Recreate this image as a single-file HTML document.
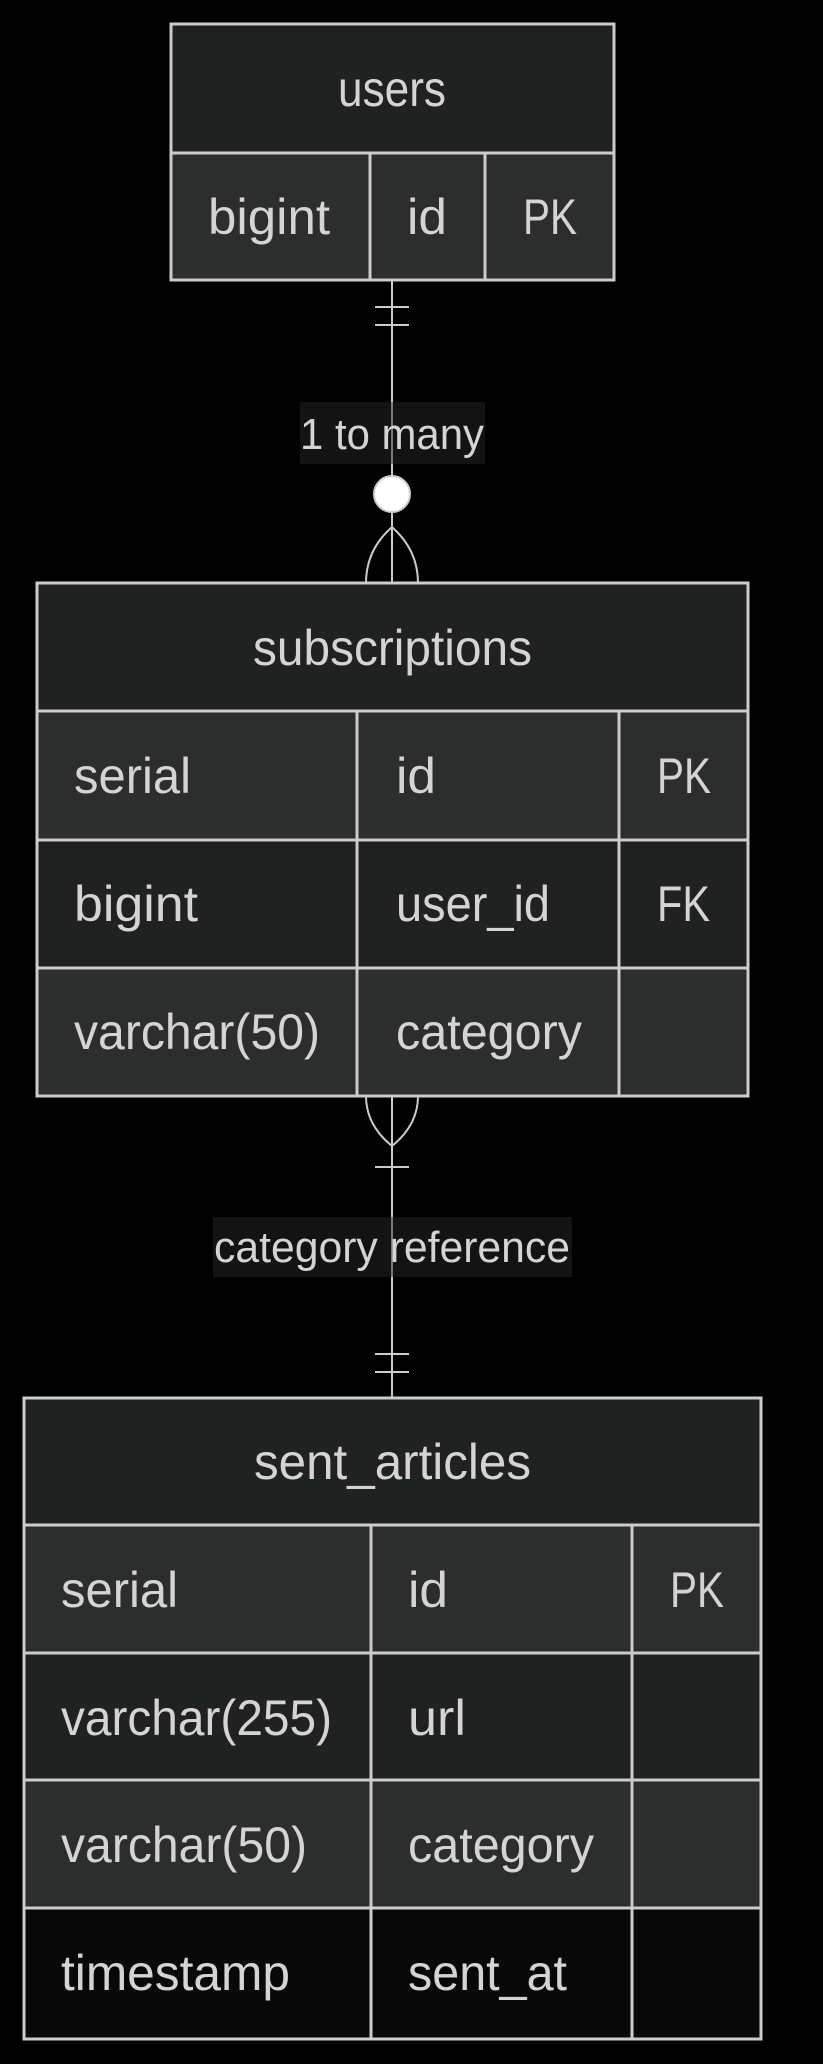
<!DOCTYPE html>
<html><head><meta charset="utf-8"><style>
html,body{margin:0;padding:0;background:#000;}
svg{display:block}
text{font-family:"Liberation Sans",sans-serif;font-size:50px;fill:#d4d4d4}
text.l{font-size:44px}
</style></head><body>
<svg width="823" height="2064" viewBox="0 0 823 2064" xmlns="http://www.w3.org/2000/svg">
<rect width="823" height="2064" fill="#000"/>
<g stroke="#cccccc" stroke-width="2" fill="none">
<line x1="392" y1="280" x2="392" y2="583"/>
<line x1="375" y1="307" x2="409" y2="307"/>
<line x1="375" y1="325" x2="409" y2="325"/>
<path d="M366 583 Q366 550 392 527 Q418 550 418 583"/>
<line x1="392" y1="1096" x2="392" y2="1398"/>
<path d="M366 1096 Q366 1125 392 1146 Q418 1125 418 1096"/>
<line x1="375" y1="1167" x2="409" y2="1167"/>
<line x1="375" y1="1354" x2="409" y2="1354"/>
<line x1="375" y1="1372" x2="409" y2="1372"/>
</g>
<rect x="300" y="402" width="185" height="62" fill="#151515" opacity="0.9"/>
<line x1="392" y1="402" x2="392" y2="464" stroke="#cccccc" stroke-width="2" opacity="0.5"/>
<text class="l" x="300" y="449" textLength="184" lengthAdjust="spacingAndGlyphs">1 to many</text>
<circle cx="392" cy="494" r="18" fill="#fff" stroke="#ccc" stroke-width="2"/>
<rect x="213" y="1217" width="359" height="60" fill="#151515" opacity="0.9"/>
<line x1="392" y1="1217" x2="392" y2="1277" stroke="#cccccc" stroke-width="2" opacity="0.5"/>
<text class="l" x="214" y="1262" textLength="356" lengthAdjust="spacingAndGlyphs">category reference</text>

<!-- users -->
<rect x="171" y="24" width="443" height="129" fill="#202121"/>
<rect x="171" y="153" width="443" height="127" fill="#2c2d2d"/>
<g stroke="#cccccc" stroke-width="3" fill="none">
<rect x="171" y="24" width="443" height="256"/>
<line x1="171" y1="153" x2="614" y2="153"/>
<line x1="370" y1="153" x2="370" y2="280"/>
<line x1="485" y1="153" x2="485" y2="280"/>
</g>
<text x="338" y="106" textLength="108" lengthAdjust="spacingAndGlyphs">users</text>
<text x="208" y="234" textLength="122" lengthAdjust="spacingAndGlyphs">bigint</text>
<text x="407" y="234" textLength="40" lengthAdjust="spacingAndGlyphs">id</text>
<text x="523" y="234" textLength="54" lengthAdjust="spacingAndGlyphs">PK</text>

<!-- subscriptions -->
<rect x="37" y="583" width="711" height="128" fill="#202121"/>
<rect x="37" y="711" width="711" height="129" fill="#2c2d2d"/>
<rect x="37" y="840" width="711" height="128" fill="#202121"/>
<rect x="37" y="968" width="711" height="128" fill="#2c2d2d"/>
<g stroke="#cccccc" stroke-width="3" fill="none">
<rect x="37" y="583" width="711" height="513"/>
<line x1="37" y1="711" x2="748" y2="711"/>
<line x1="37" y1="840" x2="748" y2="840"/>
<line x1="37" y1="968" x2="748" y2="968"/>
<line x1="357" y1="711" x2="357" y2="1096"/>
<line x1="619" y1="711" x2="619" y2="1096"/>
</g>
<text x="253" y="665" textLength="279" lengthAdjust="spacingAndGlyphs">subscriptions</text>
<text x="74" y="793" textLength="117" lengthAdjust="spacingAndGlyphs">serial</text>
<text x="396" y="793" textLength="40" lengthAdjust="spacingAndGlyphs">id</text>
<text x="657" y="793" textLength="54" lengthAdjust="spacingAndGlyphs">PK</text>
<text x="74" y="921" textLength="124" lengthAdjust="spacingAndGlyphs">bigint</text>
<text x="396" y="921" textLength="154" lengthAdjust="spacingAndGlyphs">user_id</text>
<text x="657" y="921" textLength="53" lengthAdjust="spacingAndGlyphs">FK</text>
<text x="74" y="1049" textLength="246" lengthAdjust="spacingAndGlyphs">varchar(50)</text>
<text x="396" y="1049" textLength="186" lengthAdjust="spacingAndGlyphs">category</text>

<!-- sent_articles -->
<rect x="24" y="1398" width="737" height="127" fill="#202121"/>
<rect x="24" y="1525" width="737" height="128" fill="#2c2d2d"/>
<rect x="24" y="1653" width="737" height="127" fill="#202121"/>
<rect x="24" y="1780" width="737" height="128" fill="#2c2d2d"/>
<rect x="24" y="1908" width="737" height="131" fill="#080808"/>
<g stroke="#cccccc" stroke-width="3" fill="none">
<rect x="24" y="1398" width="737" height="641"/>
<line x1="24" y1="1525" x2="761" y2="1525"/>
<line x1="24" y1="1653" x2="761" y2="1653"/>
<line x1="24" y1="1780" x2="761" y2="1780"/>
<line x1="24" y1="1908" x2="761" y2="1908"/>
<line x1="371" y1="1525" x2="371" y2="2039"/>
<line x1="632" y1="1525" x2="632" y2="2039"/>
</g>
<text x="254" y="1479" textLength="277" lengthAdjust="spacingAndGlyphs">sent_articles</text>
<text x="61" y="1607" textLength="117" lengthAdjust="spacingAndGlyphs">serial</text>
<text x="408" y="1607" textLength="40" lengthAdjust="spacingAndGlyphs">id</text>
<text x="670" y="1607" textLength="54" lengthAdjust="spacingAndGlyphs">PK</text>
<text x="61" y="1735" textLength="271" lengthAdjust="spacingAndGlyphs">varchar(255)</text>
<text x="408" y="1735" textLength="58" lengthAdjust="spacingAndGlyphs">url</text>
<text x="61" y="1862" textLength="246" lengthAdjust="spacingAndGlyphs">varchar(50)</text>
<text x="408" y="1862" textLength="186" lengthAdjust="spacingAndGlyphs">category</text>
<text x="61" y="1990" textLength="229" lengthAdjust="spacingAndGlyphs">timestamp</text>
<text x="408" y="1990" textLength="159" lengthAdjust="spacingAndGlyphs">sent_at</text>
</svg>
</body></html>
